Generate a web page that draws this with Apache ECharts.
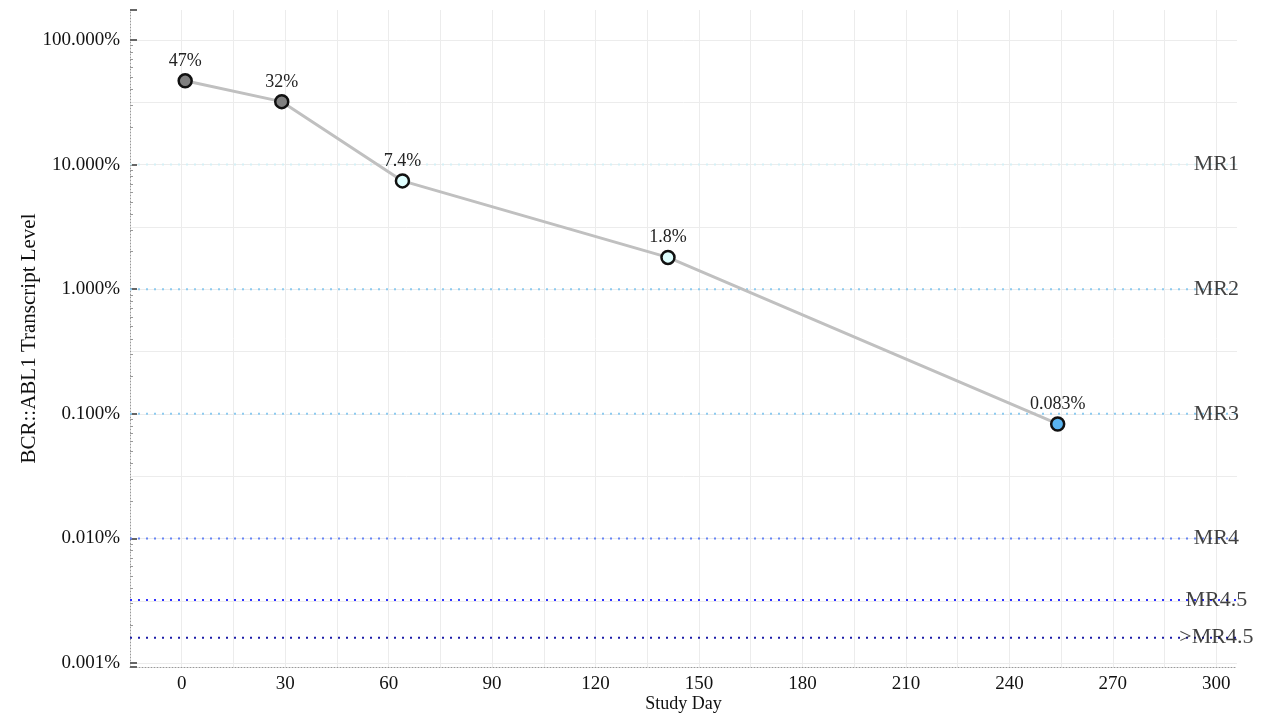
<!DOCTYPE html>
<html>
<head>
<meta charset="utf-8">
<script src="https://cdn.jsdelivr.net/npm/echarts@6/dist/echarts.min.js"></script>
<style>
  html, body { margin: 0; padding: 0; background: #fff; }
  #chart { width: 1268px; height: 714px; }
</style>
</head>
<body>
<div id="chart"></div>
<script>
// study days and BCR::ABL1 levels (percent)
const days = [1, 29, 64, 141, 254];
const levels = [47, 32, 7.4, 1.8, 0.083];
const pointLabels = ['47%', '32%', '7.4%', '1.8%', '0.083%'];
const pointColors = ['#808080', '#808080', '#e0ffff', '#e0ffff', '#5ab4f0'];

// molecular response thresholds
const mrNames = ['MR1', 'MR2', 'MR3', 'MR4', 'MR4.5', '>MR4.5'];
const mrLevels = [10, 1, 0.1, 0.01, 0.0032, 0.0016];
const mrColors = ['#d4f0f6', '#8ccaf0', '#8ccaf0', '#6684f4', '#3030ff', '#1c1ca8'];
const mrLabelDay = 300;

// axis ranges
const xMin = -15, xMax = 306;
const yMin = 0.00093, yMax = 174;

const font = '"Liberation Serif", "DejaVu Serif", serif';

const chart = echarts.init(document.getElementById('chart'));

const thresholdSeries = mrLevels.map((v, i) => ({
    name: mrNames[i],
    type: 'line',
    silent: true,
    symbol: 'none',
    z: 3,
    data: [[xMin, v], [xMax, v]],
    lineStyle: { color: mrColors[i], type: [2, 6], width: 2 }
}));

chart.setOption({
    backgroundColor: '#fff',
    animation: false,
    textStyle: { fontFamily: font },
    grid: { left: 130, right: 31, top: 10, bottom: 47, outerBoundsMode: 'none', containLabel: false },
    xAxis: {
        type: 'value',
        min: xMin,
        max: xMax,
        interval: 15,
        name: 'Study Day',
        nameLocation: 'middle',
        nameGap: 28,
        nameMoveOverlap: false,
        nameTextStyle: { fontFamily: font, fontSize: 18, color: '#111' },
        axisLine: { show: true, onZero: false, lineStyle: { color: '#999', type: [1, 2], width: 1 } },
        axisTick: { show: false },
        axisLabel: {
            fontFamily: font, fontSize: 19, color: '#111', margin: 8,
            formatter: v => (v >= 0 && v % 30 === 0) ? String(v) : ''
        },
        splitLine: { show: true, showMinLine: false, showMaxLine: false, lineStyle: { color: '#ececec', width: 1 } }
    },
    yAxis: [
        {
            type: 'log',
            logBase: 10,
            min: yMin,
            max: yMax,
            name: 'BCR::ABL1 Transcript Level',
            nameLocation: 'middle',
            nameGap: 90,
            nameMoveOverlap: false,
            nameTextStyle: { fontFamily: font, fontSize: 21, color: '#111' },
            axisLine: { show: true, onZero: false, lineStyle: { color: '#999', type: [1, 2], width: 1 } },
            axisTick: { show: true, inside: true, length: 7, lineStyle: { color: '#666', width: 2 } },
            minorTick: { show: true, splitNumber: 9, length: 3, lineStyle: { color: '#999' } },
            axisLabel: {
                fontFamily: font, fontSize: 19, color: '#111', margin: 10,
                formatter: v => {
                    const e = Math.log10(v);
                    return Math.abs(e - Math.round(e)) < 1e-6 ? v.toFixed(3) + '%' : '';
                }
            },
            splitLine: { show: false }
        },
        {
            // helper axis in log10 units, only for half-decade grid lines
            type: 'value',
            position: 'left',
            min: Math.log10(yMin),
            max: Math.log10(yMax),
            splitNumber: 10,
            axisLine: { show: false },
            axisTick: { show: false },
            axisLabel: { show: false },
            splitLine: { show: true, showMinLine: false, showMaxLine: false, lineStyle: { color: '#ececec', width: 1 } }
        }
    ],
    series: thresholdSeries.concat([
        {
            name: 'mrLabels',
            type: 'scatter',
            symbolSize: 0,
            silent: true,
            z: 5,
            data: mrLevels.map((v, i) => ({ value: [mrLabelDay, v], name: mrNames[i] })),
            label: {
                show: true,
                position: 'inside',
                formatter: p => p.name,
                fontFamily: font,
                fontSize: 22,
                color: '#111'
            }
        },
        {
            name: 'level',
            type: 'line',
            z: 10,
            data: days.map((d, i) => ({
                value: [d, levels[i]],
                itemStyle: { color: pointColors[i] }
            })),
            lineStyle: { color: '#c0c0c0', width: 3 },
            symbol: 'circle',
            symbolSize: 13,
            itemStyle: { borderColor: '#111', borderWidth: 2.5 },
            label: {
                show: true,
                position: 'top',
                distance: 3,
                fontFamily: font,
                fontSize: 18,
                color: '#222',
                formatter: p => pointLabels[p.dataIndex]
            }
        }
    ])
});
</script>
</body>
</html>
